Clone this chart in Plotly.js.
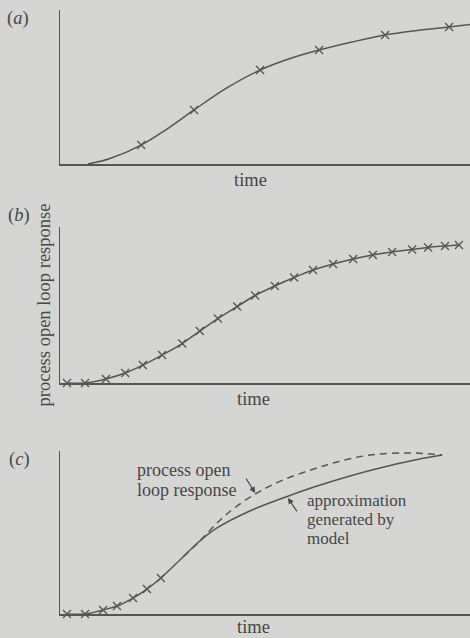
<!DOCTYPE html>
<html>
<head>
<meta charset="utf-8">
<script src="https://cdn.plot.ly/plotly-3.0.1.min.js"></script>
<style>
  html, body { margin: 0; padding: 0; background: #d5d5d3; }
  #chart { width: 470px; height: 638px; }
</style>
</head>
<body>
<div id="chart"></div>
<script>
// ---- Panel (a): sparse samples of the process open loop response ----
const aCurveT = [0.68, 1.22, 1.98, 2.61, 3.27, 4.07, 4.88, 5.61, 6.32, 7.12, 7.93, 8.71, 9.49, 10.0];
const aCurveY = [0.0, 0.036, 0.123, 0.227, 0.351, 0.494, 0.610, 0.685, 0.740, 0.792, 0.838, 0.867, 0.890, 0.906];
const aMarkT = [1.98, 3.27, 4.88, 6.32, 7.93, 9.49];
const aMarkY = [0.123, 0.351, 0.610, 0.740, 0.838, 0.890];

// ---- Panel (b): dense samples ----
const bT = [0.17, 0.61, 1.12, 1.59, 2.02, 2.49, 2.98, 3.41, 3.85, 4.32, 4.76,
            5.24, 5.71, 6.17, 6.66, 7.15, 7.63, 8.10, 8.59, 8.98, 9.39, 9.73];
const bY = [0.0, 0.0, 0.026, 0.064, 0.115, 0.179, 0.253, 0.333, 0.413, 0.490, 0.561,
            0.622, 0.676, 0.724, 0.763, 0.795, 0.821, 0.840, 0.856, 0.869, 0.878, 0.885];

// ---- Panel (c): samples used + model approximation vs process response ----
const cMarkT = [0.17, 0.61, 1.05, 1.39, 1.78, 2.12, 2.46];
const cMarkY = [0.0, 0.0, 0.025, 0.049, 0.098, 0.153, 0.221];
const cModelT = [0.17, 0.61, 1.05, 1.39, 1.78, 2.12, 2.46, 3.00, 3.41, 3.83, 4.63, 5.44, 6.27, 7.07, 7.80, 8.54, 9.32];
const cModelY = [0.0, 0.0, 0.025, 0.049, 0.098, 0.153, 0.221, 0.350, 0.448, 0.528, 0.632, 0.712, 0.785, 0.847, 0.896, 0.939, 0.975];
const cProcT = [3.00, 3.41, 3.83, 4.22, 4.80, 5.44, 6.27, 6.76, 7.56, 8.54, 9.32];
const cProcY = [0.350, 0.448, 0.558, 0.644, 0.742, 0.822, 0.896, 0.933, 0.975, 0.988, 0.975];

const panelLabels = ['(<i>a</i>)', '(<i>b</i>)', '(<i>c</i>)'];
const xTitle = 'time';
const yTitle = 'process open loop response';
const procLabel = ['process open', 'loop response'];
const modelLabel = ['approximation', 'generated by', 'model'];

// ---- styling ----
const W = 470, H = 638;
const ink = '#474747';
const lineCol = '#555555';
const FONT = 'Liberation Serif, Times New Roman, serif';
const FS = 18.5;
const px = v => v / W;
const py = v => 1 - v / H;

const lineStyle = { color: lineCol, width: 1.5, shape: 'spline', smoothing: 1 };
const markStyle = { symbol: 'x-thin', size: 8, line: { color: lineCol, width: 1.3 }, color: lineCol };

const traces = [
  { x: aCurveT, y: aCurveY, mode: 'lines', line: lineStyle, xaxis: 'x', yaxis: 'y', cliponaxis: false },
  { x: aMarkT, y: aMarkY, mode: 'markers', marker: markStyle, xaxis: 'x', yaxis: 'y', cliponaxis: false },
  { x: bT, y: bY, mode: 'lines+markers', line: lineStyle, marker: markStyle, xaxis: 'x2', yaxis: 'y2', cliponaxis: false },
  { x: cProcT, y: cProcY, mode: 'lines', line: Object.assign({}, lineStyle, { dash: '7px,5px' }), xaxis: 'x3', yaxis: 'y3', cliponaxis: false },
  { x: cModelT, y: cModelY, mode: 'lines', line: lineStyle, xaxis: 'x3', yaxis: 'y3', cliponaxis: false },
  { x: cMarkT, y: cMarkY, mode: 'markers', marker: markStyle, xaxis: 'x3', yaxis: 'y3', cliponaxis: false }
];

function xax(anchor) {
  return { domain: [px(60), 1], range: [0, 10], anchor: anchor, showline: true, linecolor: lineCol, linewidth: 1.5,
           showgrid: false, zeroline: false, showticklabels: false, ticks: '', fixedrange: true };
}
function yax(anchor, dom) {
  return { domain: dom, range: [0, 1], anchor: anchor, showline: true, linecolor: lineCol, linewidth: 1.5,
           showgrid: false, zeroline: false, showticklabels: false, ticks: '', fixedrange: true };
}

const y2 = yax('x2', [py(383), py(227)]);
y2.title = { text: yTitle, font: { family: FONT, size: FS, color: ink }, standoff: 3 };
y2.automargin = false;

const annotations = [];
function txt(text, x, y, xanchor, size) {
  annotations.push({ xref: 'paper', yref: 'paper', x: px(x), y: py(y), text: text, showarrow: false,
                     xanchor: xanchor || 'center', yanchor: 'middle', align: 'left', borderpad: 0,
                     font: { family: FONT, size: size || FS, color: ink } });
}
txt(panelLabels[0], 18, 18);
txt(panelLabels[1], 19, 215);
txt(panelLabels[2], 19, 459);
txt(xTitle, 250, 180);
txt(xTitle, 253, 399);
txt(xTitle, 253, 627);
txt(procLabel[0], 136, 469.5, 'left', 18);
txt(procLabel[1], 136, 490, 'left', 18);
txt(modelLabel[0], 306, 500, 'left', 17);
txt(modelLabel[1], 306, 519.2, 'left', 17);
txt(modelLabel[2], 306, 538.4, 'left', 17);

// arrows pointing at the two curves in (c)
annotations.push({ xref: 'x3', yref: 'y3', x: 4.76, y: 0.742, ax: -10, ay: -16, text: '', showarrow: true,
                   arrowhead: 2, arrowsize: 1, arrowwidth: 1.2, arrowcolor: ink });
annotations.push({ xref: 'x3', yref: 'y3', x: 5.56, y: 0.712, ax: 10, ay: 15, text: '', showarrow: true,
                   arrowhead: 2, arrowsize: 1, arrowwidth: 1.2, arrowcolor: ink });

const layout = {
  width: W, height: H,
  margin: { l: 0, r: 0, t: 0, b: 0, pad: 0 },
  paper_bgcolor: '#d5d5d3', plot_bgcolor: 'rgba(0,0,0,0)',
  showlegend: false,
  font: { family: FONT, color: ink },
  xaxis: xax('y'), yaxis: yax('x', [py(164), py(10)]),
  xaxis2: xax('y2'), yaxis2: y2,
  xaxis3: xax('y3'), yaxis3: yax('x3', [py(614), py(451)]),
  annotations: annotations
};

Plotly.newPlot('chart', traces, layout, { staticPlot: true, displayModeBar: false });
</script>
</body>
</html>
